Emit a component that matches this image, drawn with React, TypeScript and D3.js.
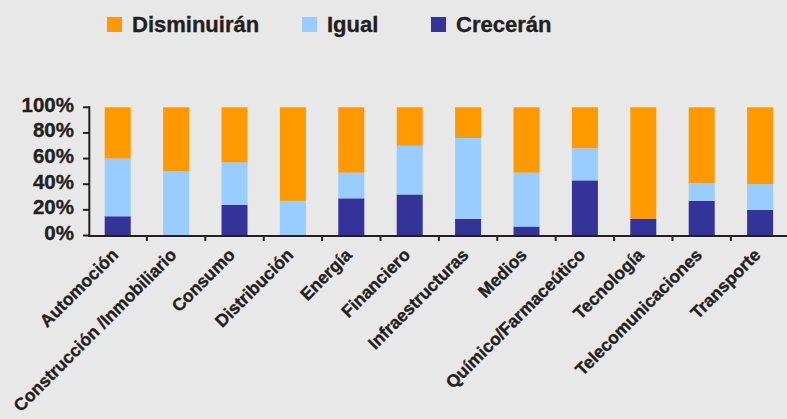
import React from "react";
import * as d3 from "d3";

const categories = [
  "Automoción",
  "Construcción /Inmobiliario",
  "Consumo",
  "Distribución",
  "Energía",
  "Financiero",
  "Infraestructuras",
  "Medios",
  "Químico/Farmaceútico",
  "Tecnología",
  "Telecomunicaciones",
  "Transporte",
];
const creceran = [15, 0, 24, 0, 29, 32, 13, 7, 43, 13, 27, 20];
const igual = [45, 50, 33, 27, 20, 38, 63, 42, 25, 0, 14, 20];
const disminuiran = [40, 50, 43, 73, 51, 30, 24, 51, 32, 87, 59, 60];
const yTicks = [0, 20, 40, 60, 80, 100];

const seriesKeys = ["creceran", "igual", "disminuiran"];
const seriesColors: Record<string, string> = {
  creceran: "#333399",
  igual: "#99CCFF",
  disminuiran: "#FF9900",
};
const legendItems = [
  { key: "disminuiran", label: "Disminuirán", x: 107, tx: 132 },
  { key: "igual", label: "Igual", x: 302, tx: 327 },
  { key: "creceran", label: "Crecerán", x: 431, tx: 456 },
];

const W = 787;
const H = 419;
const FONT = "'Liberation Sans', Arial, Helvetica, sans-serif";
const INK = "#231F20";

export default function App() {
  const rows = categories.map((c, i) => ({
    cat: c,
    creceran: creceran[i],
    igual: igual[i],
    disminuiran: disminuiran[i],
  }));
  const stacked = d3.stack<any>().keys(seriesKeys)(rows);

  const x = d3
    .scaleBand<string>()
    .domain(categories)
    .range([88.5, 789.3])
    .paddingInner(0.555)
    .paddingOuter(0.2775);
  const y = d3.scaleLinear().domain([0, 100]).range([235.5, 107.3]);
  const step = x.step();
  const x0 = 89.3;
  const baseY = 236;

  const textStyle = { stroke: INK, strokeWidth: 0.35 };

  return (
    <svg
      width={W}
      height={H}
      style={{ position: "fixed", left: 0, top: 0, background: "#E8E8E8" }}
      fontFamily={FONT}
    >
      <rect x={0} y={0} width={W} height={H} fill="#E8E8E8" />
      {/* legend */}
      {legendItems.map((l) => (
        <g key={l.key}>
          <rect x={l.x} y={17} width={15} height={15} fill={seriesColors[l.key]} />
          <text x={l.tx} y={32} fontSize={22} fontWeight="bold" fill={INK} style={textStyle}>
            {l.label}
          </text>
        </g>
      ))}
      {/* bars */}
      {stacked.map((s) => (
        <g key={s.key} fill={seriesColors[s.key]}>
          {s.map((d, i) => (
            <rect
              key={i}
              x={x(categories[i])!}
              width={x.bandwidth()}
              y={y(d[1])}
              height={Math.max(0, y(d[0]) - y(d[1]))}
            />
          ))}
        </g>
      ))}
      {/* y axis */}
      <line x1={x0} x2={x0} y1={106.3} y2={baseY + 1} stroke={INK} strokeWidth={2} />
      {yTicks.map((t) => (
        <g key={t}>
          <line x1={83} x2={x0} y1={y(t)} y2={y(t)} stroke={INK} strokeWidth={2} />
          <text
            x={74}
            y={y(t) + 4.5}
            textAnchor="end"
            fontSize={20.5}
            fontWeight="bold"
            fill={INK}
            style={textStyle}
          >
            {t}%
          </text>
        </g>
      ))}
      {/* x axis */}
      <line x1={x0 - 1} x2={W} y1={baseY} y2={baseY} stroke={INK} strokeWidth={2.2} />
      {categories.slice(1).map((c) => {
        const tx = x(c)! - (step - x.bandwidth()) / 2;
        return (
          <line key={c} x1={tx} x2={tx} y1={baseY} y2={baseY + 5} stroke={INK} strokeWidth={2} />
        );
      })}
      {categories.map((c) => {
        const cx = x(c)! + x.bandwidth() / 2 + 1.5;
        const cy = 256;
        return (
          <text
            key={c}
            x={cx}
            y={cy}
            transform={`rotate(-45, ${cx}, ${cy})`}
            textAnchor="end"
            fontSize={17.5}
            fontWeight="bold"
            fill={INK}
            style={textStyle}
          >
            {c}
          </text>
        );
      })}
    </svg>
  );
}
